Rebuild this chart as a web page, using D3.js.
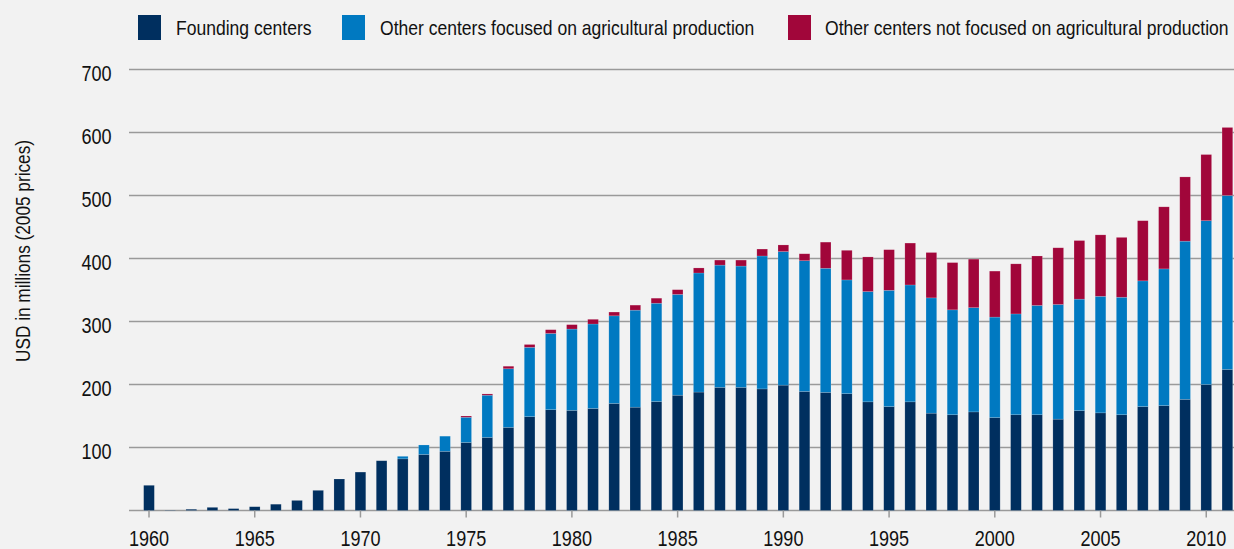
<!DOCTYPE html>
<html><head><meta charset="utf-8">
<script src="https://cdn.jsdelivr.net/npm/d3@7"></script>
<style>
html,body{margin:0;padding:0;background:#f2f2f2;}
svg{display:block;}
text{font-family:"Liberation Sans",Arial,sans-serif;fill:#111;}
</style></head>
<body><svg id="c" width="1234" height="549"></svg>
<script>
const years = d3.range(1960, 2012);
const founding = [40,0.5,2,5,3,6,10,16,32,50,61,79,82,89,94,108,116,132,149,160,159,162,170,164,173,183,188,195.5,195.5,193,199,189,187.5,185.5,172.5,165,172.5,154.5,152,156.5,147.5,152,152,145,158.5,155,152,165,166.5,176.5,200,224];
const otherAg = [0,0,0,0,0,0,0,0,0,0,0,0,4,15,24,40,67,93,110,121,129,134,139,154,156,160,189,194,192.5,211,212,207.5,197,180.5,175,184.5,185.5,183,166.5,165.5,159.5,160,173.5,182,177,185,186.5,199.5,217,251,260,276];
const otherNonAg = [0,0,0,0,0,0,0,0,0,0,0,0,0,0,0,2,2,4,4.5,6,7,7.5,6,8,8,7.5,8,8,9.5,11,10.5,11,41.5,47,55,64.5,66.5,72,75,77,73,79.5,78.5,90,93,97.5,95,95.5,98.5,102,105,108];
const seriesNames = ["Founding centers","Other centers focused on agricultural production","Other centers not focused on agricultural production"];
const seriesColors = ["#002f5f","#0079c1","#a1063a"];
const yTicks = [100,200,300,400,500,600,700];
const xTicks = [1960,1965,1970,1975,1980,1985,1990,1995,2000,2005,2010];

const svg = d3.select("#c");
const step = 21.145;
const x = d3.scaleBand().domain(years).range([149 - step/2, 149 - step/2 + step*years.length]).paddingInner(0.495).paddingOuter(0.2475);
const y = d3.scaleLinear().domain([0,700]).range([510.5,69.5]);
const gridLeft = 129, gridRight = 1234;

function condense(sel, f){
  sel.each(function(){
    const w = this.getComputedTextLength();
    d3.select(this).attr("textLength", w*f).attr("lengthAdjust","spacingAndGlyphs");
  });
}

// gridlines
svg.append("g").selectAll("line").data([0].concat(yTicks)).join("line")
  .attr("x1",gridLeft).attr("x2",gridRight)
  .attr("y1",d=>y(d)).attr("y2",d=>y(d))
  .attr("stroke","#9a9a9a").attr("stroke-width",1.5);

// y labels
svg.append("g").selectAll("text").data(yTicks).join("text")
  .attr("x",111.5).attr("y",d=>y(d)+11.5)
  .attr("text-anchor","end").attr("font-size",22).text(d=>d)
  .call(condense,0.82);

// y title
svg.append("text").attr("transform","translate(22,251) rotate(-90)")
  .attr("text-anchor","middle").attr("dy","0.36em").attr("font-size",21).text("USD in millions (2005 prices)")
  .call(condense,0.82);

// stacked bars
const rows = years.map((yr,i)=>({year:yr, s0:founding[i], s1:otherAg[i], s2:otherNonAg[i]}));
const stack = d3.stack().keys(["s0","s1","s2"])(rows);
svg.append("g").selectAll("g").data(stack).join("g")
  .attr("fill",(d,i)=>seriesColors[i])
  .selectAll("rect").data(d=>d.filter(p=>p[1]-p[0]>0)).join("rect")
  .attr("x",d=>x(d.data.year)).attr("width",x.bandwidth())
  .attr("y",d=>y(d[1])).attr("height",d=>y(d[0])-y(d[1]))
  .attr("stroke","rgba(255,255,255,0.25)").attr("stroke-width",0.6);

// x axis
const xAxis = d3.axisBottom(x).tickValues(xTicks).tickSize(7).tickPadding(0);
const gx = svg.append("g").attr("transform","translate(0,510.5)").call(xAxis);
gx.select(".domain").remove();
gx.selectAll(".tick line").attr("stroke","#9a9a9a").attr("stroke-width",1.5);
gx.selectAll(".tick text").attr("font-size",22).attr("font-family",null).attr("fill","#111")
  .attr("y",35).attr("dy",null).call(condense,0.82);

// legend
const legX = [138,342,788];
const leg = svg.append("g").selectAll("g").data(seriesNames).join("g")
  .attr("transform",(d,i)=>`translate(${legX[i]},15)`);
leg.append("rect").attr("width",23).attr("height",25).attr("fill",(d,i)=>seriesColors[i]);
leg.append("text").attr("x",(d,i)=>i===2?37:38).attr("y",20).attr("font-size",21).text(d=>d)
  .call(condense,0.835);
</script></body></html>
